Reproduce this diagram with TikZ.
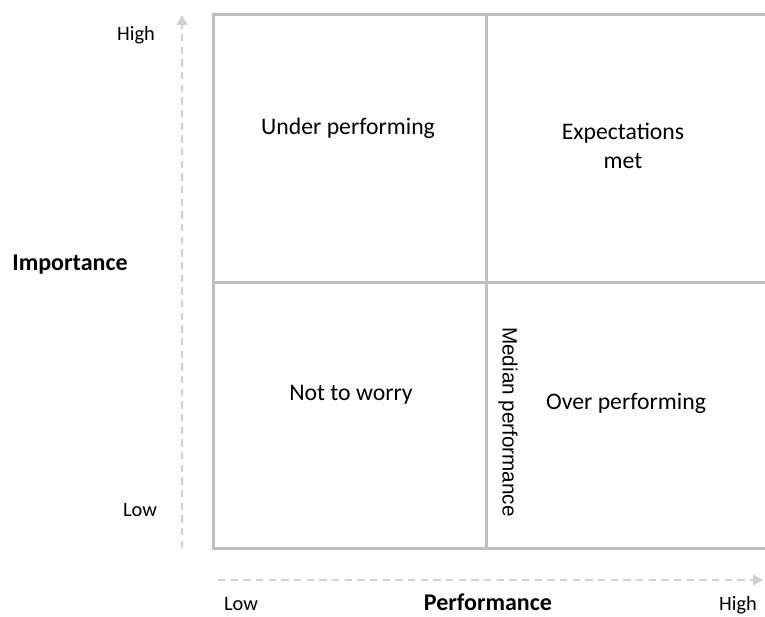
\documentclass[tikz,border=0pt]{standalone}
\usepackage{fontspec}
\setmainfont{Carlito}
\newfontfamily\medianfont{Liberation Sans}
\usetikzlibrary{arrows.meta,positioning}
\definecolor{gridgrey}{RGB}{191,191,191}
\definecolor{axisgrey}{RGB}{208,208,208}
\tikzstyle{quadlabel} = [font=\fontsize{17.8}{22}\selectfont, align=center, inner sep=0pt]
\tikzstyle{ticklabel} = [font=\fontsize{15.3}{18}\selectfont, inner sep=0pt]
\tikzstyle{axistitle} = [font=\fontsize{18}{22}\selectfont\bfseries, inner sep=0pt]
\tikzstyle{gridline} = [draw=gridgrey, line width=2.25pt]
\tikzstyle{axisarrow} = [draw=axisgrey, line width=1.5pt, dash pattern=on 5.5pt off 4pt, -{Triangle[length=7.5pt,width=8pt,fill=axisgrey]}]
\begin{document}
\begin{tikzpicture}[x=0.75pt, y=-0.75pt]
\useasboundingbox (0,0) rectangle (765,617);
\begin{scope}
\clip (0,0) rectangle (765,617);
% grid
\draw[gridline] (213,15) rectangle (775,548);
\draw[gridline] (486,15) -- (486,548);
\draw[gridline] (213,282) -- (775,282);
\end{scope}
% axes
\coordinate (ybot) at (182,548);
\coordinate (ytop) at (182,15);
\coordinate (xleft) at (218,580);
\coordinate (xright) at (763,580);
\draw[axisarrow] (ybot) -- (ytop);
\draw[axisarrow] (xleft) -- (xright);
% labels
\node[ticklabel] (yhigh) at (136,35) {High};
\node[ticklabel] (ylow) at (140,510) {Low};
\node[axistitle] (ytitle) at (70,265) {Importance};
\node[ticklabel] (xlow) at (241,604) {Low};
\node[axistitle] (xtitle) at (488,602) {Performance};
\node[ticklabel] (xhigh) at (738,605) {High};
% quadrants
\node[quadlabel] (under) at (348,128) {Under performing};
\node[quadlabel] (expect) at (623,146) {Expectations\\met};
\node[quadlabel] (noworry) at (351,395) {Not to worry};
\node[quadlabel] (over) at (626,403) {Over performing};
\node[font=\medianfont\fontsize{15.5}{18}\selectfont, rotate=-90, inner sep=0pt] (median) at (508,422) {Median performance};
\end{tikzpicture}
\end{document}
